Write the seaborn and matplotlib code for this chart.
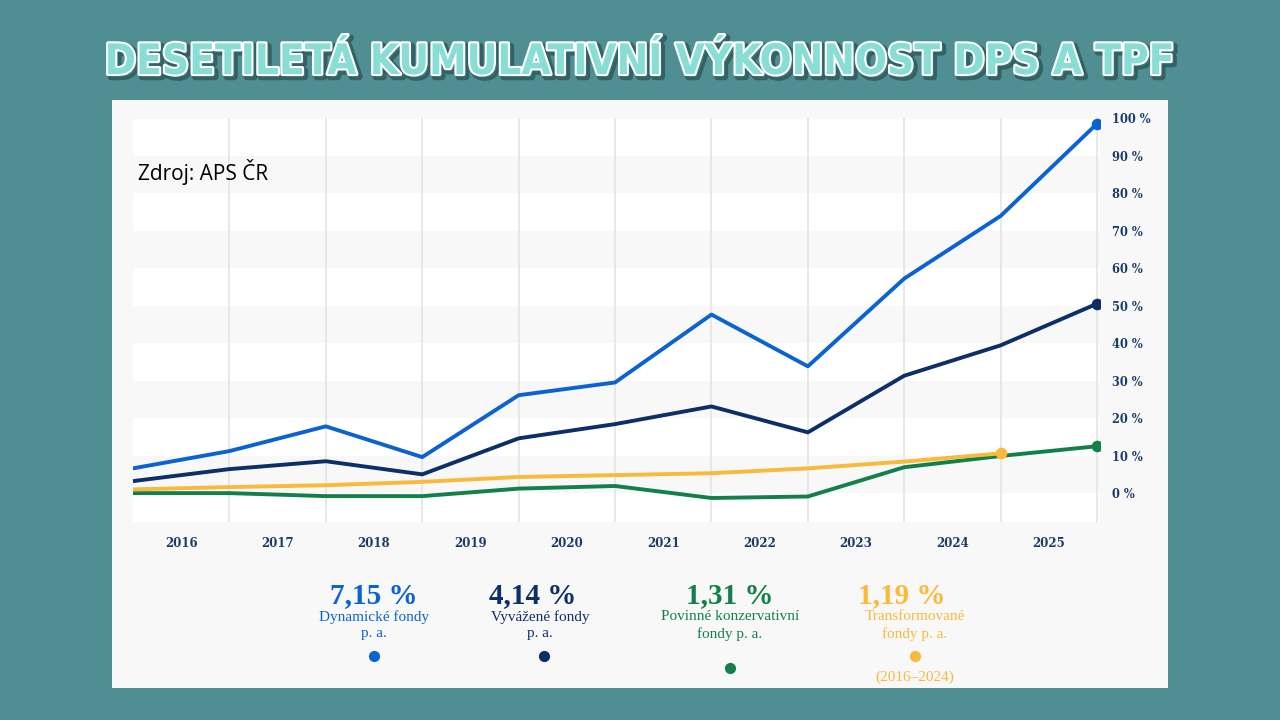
import numpy as np
import pandas as pd
import matplotlib
matplotlib.use("Agg")
import matplotlib.pyplot as plt
import matplotlib.patheffects as pe
from matplotlib.patches import Rectangle
import seaborn as sns

# ---------------- data ----------------
points = list(range(11))
years = ["2016", "2017", "2018", "2019", "2020", "2021", "2022", "2023", "2024", "2025"]
dynamic = [6.6, 11.2, 17.8, 9.6, 26.1, 29.5, 47.6, 33.8, 57.2, 73.9, 98.5]
balanced = [3.2, 6.4, 8.5, 5.0, 14.6, 18.4, 23.1, 16.2, 31.3, 39.4, 50.5]
conservative = [0.0, 0.0, -0.8, -0.8, 1.2, 1.9, -1.3, -0.9, 6.9, 9.9, 12.5]
transformed = [1.0, 1.6, 2.1, 3.0, 4.3, 4.8, 5.3, 6.6, 8.4, 10.6, np.nan]
y_ticks = list(range(0, 101, 10))
y_tick_labels = [f"{v} %" for v in y_ticks]
series_keys = ["Dynamické", "Vyvážené", "Povinné konzervativní", "Transformované"]
pa_values = ["7,15 %", "4,14 %", "1,31 %", "1,19 %"]
legend_line1 = ["Dynamické fondy", "Vyvážené fondy", "Povinné konzervativní", "Transformované"]
legend_line2 = ["p. a.", "p. a.", "fondy p. a.", "fondy p. a."]
transformed_note = "(2016–2024)"
title = "DESETILETÁ KUMULATIVNÍ VÝKONNOST DPS A TPF"
source = "Zdroj: APS ČR"

# ---------------- style ----------------
BG = "#4f8f93"
PANEL = "#f8f8f8"
NAVY_TXT = "#1b3b6c"
colors = {
    "Dynamické": "#0b63d2",
    "Vyvážené": "#0d2f68",
    "Povinné konzervativní": "#13804a",
    "Transformované": "#f9b93b",
}

sns.set_theme(style="white")
plt.rcParams["font.family"] = ["DejaVu Serif", "DejaVu Sans"]

W, H = 1280, 720
fig = plt.figure(figsize=(12.8, 7.2), dpi=100, facecolor=BG)

# white panel
fig.add_artist(Rectangle((112 / W, 1 - 688 / H), (1168 - 112) / W, (688 - 100) / H,
                         transform=fig.transFigure, facecolor=PANEL, edgecolor="none", zorder=0))

ax = fig.add_axes([133 / W, 1 - 522 / H, (1100 - 133) / W, (522 - 118) / H])
ax.set_facecolor(PANEL)
ymin, ymax = -7.7, 99.7
for lo, hi in [(ymin, 0), (10, 20), (30, 40), (50, 60), (70, 80), (90, ymax)]:
    ax.axhspan(lo, hi, color="white", lw=0, zorder=0)
for i in points[1:]:
    ax.axvline(i, color="#e4e4e4", lw=1.2, zorder=1)

df = pd.DataFrame({
    "point": points * 4,
    "value": dynamic + balanced + conservative + transformed,
    "series": sum([[k] * len(points) for k in series_keys], []),
}).dropna()

draw_order = ["Povinné konzervativní", "Transformované", "Vyvážené", "Dynamické"]
sns.lineplot(data=df, x="point", y="value", hue="series", hue_order=draw_order,
             palette=colors, linewidth=2.8, legend=False, ax=ax, sort=False, zorder=3)

for k in draw_order:
    sub = df[df["series"] == k]
    last = sub.iloc[-1]
    ax.scatter([last["point"]], [last["value"]], s=70, color=colors[k], zorder=5, linewidths=0)

ax.set_xlim(0, 10.03)
ax.set_ylim(ymin, ymax)
for s in ax.spines.values():
    s.set_visible(False)
ax.set_xlabel("")
ax.set_ylabel("")
ax.set_xticks([i + 0.5 for i in range(len(years))])
ax.set_xticklabels(years)
ax.yaxis.tick_right()
ax.set_yticks(y_ticks)
ax.set_yticklabels(y_tick_labels)
ax.tick_params(axis="x", length=0, pad=11, labelsize=8.5, labelcolor=NAVY_TXT)
ax.tick_params(axis="y", length=0, pad=9, labelsize=8.3, labelcolor=NAVY_TXT)
for lbl in ax.get_xticklabels() + ax.get_yticklabels():
    lbl.set_fontweight("bold")

# title
t = fig.text(0.5, 1 - 62 / H, title, ha="center", va="center", fontsize=34, fontweight="heavy",
             family=["DejaVu Sans Condensed", "Liberation Sans Narrow", "DejaVu Sans"],
             fontstretch="condensed", color="#88ddd5",
             path_effects=[pe.Stroke(linewidth=5, foreground="#1f4446", offset=(2, -2), alpha=0.6),
                           pe.Stroke(linewidth=3, foreground="white"), pe.Normal()])
fig.canvas.draw()
bw = t.get_window_extent().width
if bw > 1070:
    t.set_fontsize(34 * 1070 / bw)

# overlay for legend and source
lax = fig.add_axes([0, 0, 1, 1])
lax.set_xlim(0, W)
lax.set_ylim(H, 0)
lax.axis("off")
lax.patch.set_alpha(0)

lax.text(138, 172, source, ha="left", va="center", fontsize=15, family="Open Sans", color="black")

num_x = [374, 533, 730, 902]
txt_x = [374, 540, 730, 915]
dot_x = [374, 544, 730, 915]
dot_y = [656, 656, 668, 656]
for i, k in enumerate(series_keys):
    c = colors[k]
    lax.text(num_x[i], 596, pa_values[i], ha="center", va="center", fontsize=21,
             fontweight="bold", family="Liberation Serif", color=c)
    lax.text(txt_x[i], 617, legend_line1[i], ha="center", va="center", fontsize=11,
             family="Liberation Serif", color=c)
    lax.text(txt_x[i], 634, legend_line2[i], ha="center", va="center", fontsize=11,
             family="Liberation Serif", color=c)
    lax.scatter([dot_x[i]], [dot_y[i]], s=65, color=c, linewidths=0)
lax.text(915, 677, transformed_note, ha="center", va="center", fontsize=11,
         family="Liberation Serif", color=colors["Transformované"])

fig.savefig("out.png", dpi=100, facecolor=BG)
